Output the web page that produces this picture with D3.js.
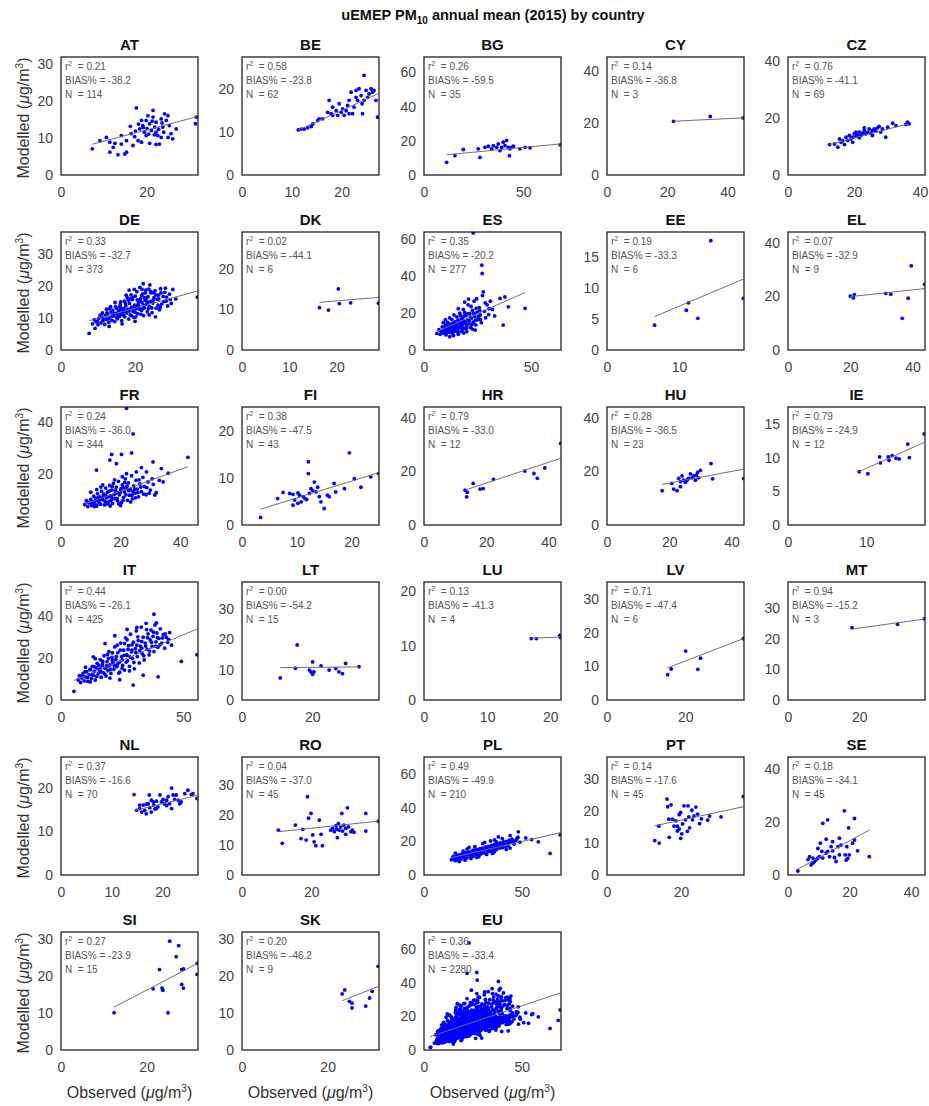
<!DOCTYPE html>
<html>
<head>
<meta charset="utf-8">
<script src="https://cdn.jsdelivr.net/npm/d3@7"></script>
<style>
  body { margin: 0; background: #fff; }
  svg { display: block; font-family: "Liberation Sans", Arial, Helvetica, sans-serif; }
  .note { white-space: pre; }
</style>
</head>
<body>
<svg id="chart" width="929" height="1106"></svg>
<script>
// panel order, left to right, top to bottom
const countries = ["AT","BE","BG","CY","CZ","DE","DK","ES","EE","EL","FR","FI","HR","HU","IE",
                   "IT","LT","LU","LV","MT","NL","RO","PL","PT","SE","SI","SK","EU"];
// both axes share the same upper limit in every panel
const axisMax = [32, 27.5, 69, 45.5, 41.5, 37, 29, 64, 19, 44, 46, 25, 44, 44, 17.5,
                 56, 39, 21.7, 35, 38.5, 27, 39.5, 70, 37, 44.5, 32, 32, 70];
const xTicks = [[0,20],[0,10,20],[0,50],[0,20,40],[0,20,40],
                [0,20],[0,10,20],[0,50],[0,10],[0,20,40],
                [0,20,40],[0,10,20],[0,20,40],[0,20,40],[0,10],
                [0,50],[0,20],[0,10,20],[0,20],[0,20],
                [0,10,20],[0,20],[0,50],[0,20],[0,20,40],
                [0,20],[0,20],[0,50]];
const yTicks = [[0,10,20,30],[0,10,20],[0,20,40,60],[0,20,40],[0,20,40],
                [0,10,20,30],[0,10,20],[0,20,40,60],[0,5,10,15],[0,20,40],
                [0,20,40],[0,10,20],[0,20,40],[0,20,40],[0,5,10,15],
                [0,20,40],[0,10,20,30],[0,10,20],[0,10,20,30],[0,10,20,30],
                [0,10,20],[0,10,20,30],[0,20,40,60],[0,10,20,30],[0,20,40],
                [0,10,20,30],[0,10,20,30],[0,20,40,60]];
const r2 = [0.21,0.58,0.26,0.14,0.76,0.33,0.02,0.35,0.19,0.07,0.24,0.38,0.79,0.28,0.79,
            0.44,0.00,0.13,0.71,0.94,0.37,0.04,0.49,0.14,0.18,0.27,0.20,0.36];
const biasPct = [-38.2,-23.8,-59.5,-36.8,-41.1,-32.7,-44.1,-20.2,-33.3,-32.9,-36.0,-47.5,-33.0,-36.5,-24.9,
                 -26.1,-54.2,-41.3,-47.4,-15.2,-16.6,-37.0,-49.9,-17.6,-34.1,-23.9,-46.2,-33.4];
const nStations = [114,62,35,3,69,373,6,277,6,9,344,43,12,23,12,425,15,4,6,3,70,45,210,45,45,15,9,2280];
// regression line: modelled = slope * observed + intercept
const fitSlope = [0.306,0.53,0.11,0.056,0.305,0.317,0.098,0.514,0.49,0.125,0.42,0.358,0.387,0.217,0.52,
                  0.485,0.01,0.05,0.448,0.159,0.28,0.123,0.267,0.25,0.634,0.607,0.46,0.39];
const fitIntercept = [6.1,4.46,10.6,19.5,6.9,6.8,10.1,6.9,2.15,17.4,4.8,2.15,7.9,11.3,3.2,
                      6.7,10.6,10.5,2.6,20.3,10.7,13.2,6.5,12.2,0.2,4.1,2.6,6.7];

// observed, modelled pairs (µg/m³)
const AT = [[7.3,7.1],[11.4,8.9],[13.3,5.5],[11.4,6.2],[12.6,8.6],[14.1,10.7],[15.3,9.3],[16.4,11.2],[17.4,11.9],[17.6,18.2],
  [18.4,12.5],[18.8,14.8],[19.1,13.4],[19.5,11.6],[19.9,10.7],[20.3,16.1],[20.7,13.9],[21.1,12.1],[21.5,15.7],[21.9,13.0],
  [22.2,14.3],[22.6,10.7],[23.0,8.4],[23.4,15.2],[23.8,13.0],[24.0,11.6],[24.2,16.6],[24.6,14.8],[25.0,10.2],[25.3,13.4],
  [25.7,11.2],[26.1,9.8],[18.8,8.9],[20.7,8.6],[22.2,8.3],[14.9,5.7],[15.3,6.2],[12.2,7.5],[14.1,8.4],[16.8,8.0],
  [18.0,9.3],[31.6,15.7],[31.4,13.9],[26.9,12.5],[25.0,16.1],[21.5,17.5],[19.9,14.8],[22.2,11.6],[23.4,10.2],[9.1,9.3],
  [10.6,10.2],[19.2,12.9],[20.1,12.6],[21.3,14.6],[22.8,12.4],[20.5,11.1],[18.1,13.8],[23.6,14.1],[21.8,10.9],[17.2,10.4],[16.2,13.2]];
const BE = [[11.3,10.5],[11.9,10.7],[12.5,10.7],[13.2,11.0],[13.9,11.3],[14.2,11.9],[16.2,13.1],[17.5,17.4],[17.9,14.3],[18.2,13.9],
  [18.9,15.0],[19.2,13.9],[19.5,16.6],[19.9,14.6],[20.2,15.4],[20.5,13.9],[20.9,15.0],[21.2,16.2],[21.5,17.4],[21.9,19.3],
  [22.2,14.3],[22.5,15.8],[22.9,18.1],[23.2,17.4],[23.5,20.1],[23.9,18.5],[24.2,14.3],[24.5,23.2],[24.5,17.4],[24.9,19.7],
  [25.2,18.1],[25.5,18.9],[25.9,20.1],[26.2,19.3],[26.5,19.7],[26.9,17.4],[27.2,13.5],[21.5,14.3],[18.2,15.8],[17.2,14.6],
  [15.5,13.1],[15.2,12.7],[22.9,19.7],[24.1,16.6]];
const BG = [[11.4,7.4],[15.6,11.3],[19.8,14.9],[27.3,15.3],[28.2,10.3],[30.7,16.2],[32.4,16.8],[34.1,15.3],[34.9,17.2],[36.6,16.2],
  [37.4,18.2],[38.3,14.3],[39.1,16.2],[39.9,19.2],[40.8,17.2],[41.6,20.2],[42.5,16.2],[43.0,11.3],[43.3,15.3],[44.2,16.2],
  [45.0,16.8],[48.3,15.3],[50.9,16.2],[53.4,15.9],[68.6,17.6]];
const CY = [[22.1,20.7],[34.3,22.6],[45.2,22.0]];
const CZ = [[12.6,10.7],[14.1,10.9],[15.1,9.8],[16.1,11.5],[16.6,12.1],[17.1,10.7],[17.6,13.3],[18.1,12.1],[18.6,13.9],[19.1,12.7],
  [19.6,13.3],[20.1,14.5],[20.6,13.5],[21.1,14.2],[21.6,15.1],[22.1,13.9],[22.6,14.7],[23.1,15.6],[23.6,14.5],[24.1,15.1],
  [24.6,16.2],[25.1,14.7],[25.6,15.6],[26.1,16.2],[26.6,15.4],[27.1,16.6],[27.6,17.1],[28.1,15.1],[28.6,16.2],[29.6,13.3],
  [30.2,16.8],[31.7,18.2],[32.7,17.4],[35.7,17.8],[36.2,18.6],[36.7,18.0],[15.6,12.7],[19.6,11.5],[21.6,13.1],[25.6,13.9],
  [20.6,15.1],[23.1,16.6]];
const DE = [[8.5,8.2],[9,9.5],[9.5,8.8],[10,7.9],[10.2,9.9],[10.8,8.5],[11,10.4],[11.3,9.2],[11.8,8.0],[12,10.8],
  [12.2,9.6],[12.6,11.2],[12.9,8.7],[13.2,10.1],[13.5,11.9],[13.8,9.3],[14,12.4],[14.2,10.7],[14.5,8.9],[14.8,11.5],
  [15,13.1],[15.2,9.8],[15.5,12.2],[15.8,10.5],[16,14.2],[16.2,11.3],[16.4,9.2],[16.6,13.0],[16.9,12.0],[17.1,15.3],
  [17.2,10.4],[17.5,13.8],[17.7,11.6],[17.9,16.4],[18.1,12.7],[18.3,9.7],[18.5,14.6],[18.7,11.0],[18.9,17.3],[19.1,13.4],
  [19.3,15.8],[19.5,12.1],[19.7,10.2],[19.9,14.1],[20.1,16.9],[20.3,12.9],[20.5,18.3],[20.7,11.4],[20.9,15.1],[21.1,13.7],
  [21.3,19.6],[21.5,16.2],[21.7,12.4],[21.9,14.8],[22.1,17.6],[22.3,10.8],[22.5,13.2],[22.7,15.6],[22.9,18.8],[23.1,14.3],
  [23.3,12.0],[23.5,16.7],[23.7,19.1],[23.9,13.6],[24.1,15.2],[24.3,17.9],[24.6,11.7],[24.8,14.7],[25.1,16.4],[25.4,18.6],
  [25.7,13.1],[26,15.9],[26.3,17.2],[26.6,12.6],[26.9,19.2],[27.2,14.4],[27.6,16.8],[28,18.1],[28.4,15.3],[28.8,13.8],
  [29.3,17.5],[29.8,14.6],[30.2,19.0],[31,16.0],[7.6,5.2],[36.8,16.6],[9.2,6.8],[13,7.4],[16.5,8.2],[20,9.0],
  [12.3,12.8],[14.6,14.9],[25.5,10.4],[17,13],[18.4,12.2],[19.6,13.2],[20.8,14.2],[21.6,11.2],[22.6,16.4],[16,12.6],
  [9.8,9.0],[10.6,10.9],[11.5,9.7],[12.4,11.6],[13.1,12.9],[13.9,10.8],[14.7,13.6],[15.4,11.0],[16.1,15.1],[16.8,10.9],
  [17.4,14.5],[18.2,15.6],[18.8,12.9],[19.4,16.6],[20.0,11.8],[20.6,15.7],[21.2,12.8],[21.8,17.1],[22.4,14.0],[23.0,16.1],
  [23.6,13.0],[24.2,18.4],[24.9,15.6],[25.6,17.3],[26.2,14.1],[27.0,17.9],[27.8,15.2],[28.5,16.6],[29.5,15.8],[14.3,11.4],
  [15.9,13.6],[17.8,12.3],[19.0,10.8],[20.4,13.6],[22.0,12.9],[23.4,15.0],[24.5,13.2],[26.4,16.0],[18.6,16.0],[16.4,12.6],
  [15.1,10.2],[12.8,9.9],[11.2,11.6],[21.4,15.5],[22.8,17.9],[25.0,18.0],[19.8,19.0],[17.6,17.2],[13.4,13.6],[23.8,11.0],
  [26.8,13.4],[28.2,19.4],[20.2,10.4],[21.9,19.0],[24.0,20.4],[22.2,20.8],[18.4,18.8]];
const DK = [[16.4,10.4],[18.3,9.8],[20.4,15.0],[20.6,11.4],[23.0,11.6],[28.9,11.5]];
const ES = [[6,9],[7,11],[7.5,8.5],[8,10],[8.5,12.5],[9,9.2],[9.5,11],[10,13.5],[10.3,8.2],[10.8,10.5],
  [11,15],[11.5,12],[12,9.6],[12.3,14],[12.8,11.2],[13,16.5],[13.4,8.8],[13.8,12.8],[14.2,10.2],[14.5,15.3],
  [15,13.2],[15.3,18],[15.6,9.9],[16,11.8],[16.3,14.6],[16.7,20],[17,12.4],[17.4,16.8],[17.8,10.8],[18,13.9],
  [18.4,22],[18.8,15.4],[19.1,11.6],[19.5,18.6],[19.8,13],[20.2,16.1],[20.6,24.5],[21,14.2],[21.4,19.8],[21.8,12.2],
  [22.2,17.3],[22.6,21.5],[23,15.1],[23.4,26.5],[23.8,18.2],[24.2,13.6],[24.7,20.4],[25.2,16.4],[25.8,23],[26.3,19],
  [26.8,14.8],[27.3,29.5],[27.7,31.5],[28.2,21],[28.8,17.5],[29.5,24.5],[30.2,19.2],[31,26.5],[32,22],[33,18.5],
  [23,63.5],[27,46],[27.2,41.5],[35.5,28],[37.8,28.8],[37,13.5],[47.2,22.6],[39.4,23.4],[12,7.2],[16,8.5],
  [20,10],[9,14.8],[14,19],[24,10.8],[19,26],[11,11],[13,13],[15,11],[17,14],[18,17],[10,9.5],[14,14],
  [8.8,9.8],[9.6,12.2],[10.6,9.4],[11.2,13.4],[11.8,10.2],[12.6,12.8],[13.2,9.6],[13.6,14.6],[14.4,11.6],[14.8,13.8],
  [15.4,10.6],[15.8,16.2],[16.6,12.6],[17.2,10],[17.6,15.2],[18.2,12],[18.6,18.4],[19.4,14.4],[20,12],[20.4,19.6],
  [21.2,15.8],[21.6,17.8],[22.4,13.8],[23.2,19.8],[24,16.2],[24.4,22.6],[25.6,18.2],[26,21.4],[10,16.4],[12,17.4],
  [16,22.4],[17,18.6],[19,20.4],[22,23.6],[20.8,27.6],[24.6,27.8],[13.8,7.8],[18.6,9.2],[22.8,11.2],[26.4,16.6],
  [28.6,25.6],[30.4,22.4]];
const EE = [[6.6,4.0],[11.3,7.6],[11.0,6.4],[12.6,5.1],[14.4,17.6],[18.9,8.3]];
const EL = [[20,20.1],[21.3,20.6],[21.0,19.4],[31.4,21.1],[38.6,19.3],[36.7,11.8],[39.6,31.4],[43.9,24.5],[33,20.8]];
const FR = [[8,8],[8.5,9.5],[9,7.2],[9.5,8.6],[10,10],[10.3,7.6],[10.8,9.1],[11,11.2],[11.4,8.2],[11.8,10.4],
  [12,7.4],[12.3,12.2],[12.6,9.3],[13,11],[13.3,8.1],[13.6,13.2],[14,9.9],[14.3,12],[14.6,7.8],[15,14.4],
  [15.3,10.6],[15.6,12.8],[16,9],[16.3,15.4],[16.6,11.4],[17,13.6],[17.3,8.4],[17.6,16.2],[18,10.2],[18.3,12.4],
  [18.6,14.8],[19,9.4],[19.3,17],[19.6,11.8],[20,13.4],[20.3,8.8],[20.6,15.6],[21,10.8],[21.3,12.9],[21.6,18],
  [22,14.2],[22.3,9.6],[22.6,16.4],[23,11.6],[23.3,13.8],[23.7,19.2],[24,10.2],[24.4,15.2],[24.8,12.4],[25.2,17.4],
  [25.6,14],[26,11],[26.5,16],[27,13],[27.5,18.6],[28,15],[28.6,11.8],[29.2,16.8],[30,13.6],[31,15.8],
  [32,12.6],[33,17.4],[12,13.8],[14,15.6],[10,12.8],[16.5,7.4],[20,7.6],[22,45.5],[24.2,35.5],[17,27.5],
  [20.3,27.5],[23.7,28.1],[11.9,21.4],[18.6,23.9],[22,20],[25.3,20.7],[28.7,20.7],[30.9,24.6],[33.7,22],[34.3,16.8],
  [31.5,11.7],[42.6,26.4],[16.4,25.3],[36,20.2],[27,22.4],[15,11.6],[17,10.6],[19,12.6],[21,14.6],[13,10],
  [9.2,8.8],[10.6,8.4],[11.6,9.6],[12.8,8.6],[13.8,10.6],[14.8,9.2],[15.8,11],[16.8,9.6],[17.8,11.8],[18.8,10.4],
  [19.8,12.6],[20.8,9.6],[21.8,11.8],[22.8,13.4],[23.8,11.6],[24.8,14],[25.8,12.6],[26.8,14.8],[27.8,12],[28.8,14.6],
  [12.6,10.8],[14.2,11.2],[16.2,13.2],[18.2,13.6],[20.2,14.2],[22.2,15.2],[24.2,13],[26.2,17.6],[19.4,8.2],[21.4,16.6],
  [17.2,15],[15.6,8.2],[23.4,9],[25,10.6],[11.2,7.2],[13.4,14.8],[29.6,12.4],[30.6,18],[18,17.6],[20.6,18.8]];
const FI = [[3.4,1.6],[6.5,5.6],[7.5,6.9],[9.3,6.5],[9.6,5.3],[9.3,4.2],[10.2,6.8],[10.2,4.6],[10.8,4.9],[11.2,6.0],
  [11.5,5.6],[11.8,5.4],[12.1,13.4],[12.1,10.9],[12.3,6.7],[12.6,7.7],[12.9,7.3],[13.2,9.1],[13.5,7.0],[13.8,8.0],
  [14.1,6.0],[14.4,4.9],[15.0,3.5],[15.6,6.3],[15.9,6.0],[16.8,8.8],[17.1,7.0],[18.7,7.7],[19.6,15.3],[20.5,9.8],
  [21.7,8.0],[23.5,10.2],[24.9,10.9],[8.7,6.7],[10.5,6.3]];
const HR = [[13.2,13],[13.7,10.5],[13.9,12.2],[15.8,15.5],[18,13.4],[19,13.6],[22.3,17],[32.4,20.1],[35.3,19.2],[36.4,17.4],
  [38.8,21.3],[43.9,30.4]];
const HU = [[17.7,12.8],[21.4,13.4],[22.5,12.8],[23.0,17.4],[23.6,16.2],[24.1,18.3],[24.6,16.7],[25.2,15.9],[25.7,16.7],[26.2,17.4],
  [26.8,19.1],[27.3,17.6],[27.8,18.3],[28.4,16.7],[28.7,18.6],[29.1,19.6],[29.4,17.6],[30.0,20.4],[33.4,22.9],[33.9,17.2],
  [43.9,17.3],[20.8,15.5],[23.6,14.3]];
const IE = [[9.1,7.9],[10.2,7.6],[11.7,10.1],[11.8,9.2],[12.9,9.6],[13.3,10.3],[13.8,9.9],[14.2,9.8],[15.3,12.0],[15.5,10.0],
  [17.4,13.5],[12.8,10.1]];
const IT = [[7,9.5],[7.5,11.5],[8,8.3],[8.5,10.4],[9,12.6],[9.5,9.1],[10,11],[10.5,13.4],[11,8.8],[11.5,12],
  [12,14.5],[12.4,10.2],[12.8,16],[13.2,11.8],[13.6,13.6],[14,9.5],[14.4,15.2],[14.8,17.4],[15.2,12.4],[15.6,14.2],
  [16,19.2],[16.4,10.8],[16.8,16.3],[17.2,13],[17.6,21],[18,15],[18.4,11.4],[18.8,18.2],[19.2,14],[19.6,23],
  [20,16.6],[20.4,12.6],[20.8,20.2],[21.2,17.8],[21.6,14.6],[22,25.2],[22.4,19.2],[22.8,15.8],[23.2,22.4],[23.6,12.8],
  [24,18],[24.4,27],[24.8,20.6],[25.2,16.4],[25.6,23.6],[26,14.2],[26.4,29.5],[26.8,21.4],[27.2,18.6],[27.6,25.8],
  [28,16],[28.4,31.2],[28.8,22.8],[29.2,19.8],[29.6,27.4],[30,14.8],[30.4,24.4],[30.8,32.8],[31.2,20.6],[31.6,28.2],
  [32,17.6],[32.4,25.6],[32.8,34.6],[33.2,22],[33.6,29.8],[34,19],[34.4,27],[34.8,36.4],[35.2,24],[35.6,31.4],
  [36,21.4],[36.4,28.6],[36.8,33.2],[37.2,25.4],[37.6,30.2],[38,23],[38.4,35.6],[38.8,27.6],[39.2,31.8],[39.6,25],
  [40,29.2],[40.6,33.8],[41.2,27],[41.8,31],[42.4,24.6],[43,29.8],[43.6,27.4],[44.4,32],[45.2,26],[5.3,4.1],
  [38,40.7],[39,36.6],[49.2,18.3],[55.6,21.5],[39.7,11],[29.5,7.1],[33.6,11.8],[13.2,20.5],[22,30.5],[27,33.5],
  [24,9.6],[18,26.8],[21,18.8],[23,16.6],[25,19],[27,21.2],[29,23.6],[31,26],[33,24.6],[19,16],[17,18.4],[26,26.8],
  [8.8,11.6],[9.8,13.4],[10.8,10.6],[11.8,14.4],[12.6,12.2],[13.6,15.8],[14.6,11.2],[15.4,16.4],[16.2,13.4],[17,17.2],
  [17.8,12.4],[18.6,16.2],[19.4,19.8],[20.2,14.6],[21,22.4],[21.8,16.4],[22.6,20.6],[23.4,17.6],[24.2,23.6],[25,15],
  [25.8,21.2],[26.6,18],[27.4,24],[28.2,20.4],[29,26.2],[29.8,17.8],[30.6,22.6],[31.4,30],[32.2,23.4],[33,27.8],
  [33.8,21],[34.6,25.6],[35.4,29.6],[36.2,23.2],[37,27.4],[37.8,32.2],[38.6,25.6],[39.4,29.6],[40.4,26.2],[41.4,29.4],
  [42.6,31.4],[44,28.8],[19,21.6],[23,26],[27,28.6],[31,34.4],[35,33.4],[20,10.4],[24,13.2],[28,13.8],
  [16,14.8],[12,8.6],[10,15.6],[14,19.6]];
const LT = [[10.9,7.3],[15.7,18.2],[15.2,10.5],[19.6,9.3],[20.1,8.5],[20.5,9.3],[20.1,12.6],[22.5,11.3],[24.8,9.9],[26.7,10.4],
  [27.6,9.3],[28.6,8.7],[29.5,12.1],[33.3,11.0],[19.2,9.9]];
const LU = [[17.0,11.3],[17.8,11.3],[21.6,11.5],[21.5,11.9]];
const LV = [[15.5,7.5],[16.4,9.2],[20.1,14.5],[23.2,9.1],[23.9,12.4],[34.8,18.2]];
const MT = [[18,23.6],[30.8,24.7],[38.3,26.5]];
const NL = [[14.4,18.4],[14.9,14.8],[15.5,15.2],[15.9,14.4],[16.2,16.0],[16.5,14.8],[16.8,14.0],[17.2,16.3],[17.4,18.3],[17.5,15.4],
  [17.8,14.4],[18.2,16.7],[18.3,16.0],[18.5,15.1],[18.8,16.9],[19.1,15.6],[19.5,18.3],[19.8,16.7],[20.1,17.3],[20.4,16.3],
  [20.8,17.1],[21.1,17.9],[21.4,16.3],[21.8,15.2],[21.8,19.9],[22.1,18.3],[22.4,17.3],[22.7,18.3],[23.1,17.1],[23.4,16.3],
  [23.7,16.7],[24.4,18.6],[25.0,19.4],[25.7,18.4],[26.0,18.6],[26.8,17.5],[15.5,16.0],[16.8,16.2],[17.8,17.1],[18.8,15.2],[20.8,15.9]];
const RO = [[10.5,15.0],[11.6,10.6],[15.4,16.7],[17.0,12.2],[17.5,15.3],[18.5,11.7],[18.9,26.2],[19.2,19.0],[19.9,20.6],[20.4,13.4],
  [20.8,11.1],[21.3,9.8],[22.3,18.4],[22.8,13.6],[23.2,9.8],[25.6,15.0],[26.1,15.6],[26.6,14.5],[27.1,16.5],[27.5,12.5],
  [27.8,17.2],[28.0,15.0],[28.5,16.1],[28.8,20.6],[29.0,14.7],[29.4,16.7],[29.9,15.6],[29.9,13.6],[30.4,22.5],[30.7,16.1],
  [31.4,14.5],[31.8,15.0],[32.3,14.3],[35.7,20.6],[35.7,14.7],[39.3,18.0],[27.2,15.4]];
const PL = [[14,9],[15,11],[16,8.5],[17,10.5],[18,12],[19,9.5],[20,11.5],[21,13.2],[22,10.2],[23,12.4],
  [24,14],[25,11],[26,13],[27,15],[28,12],[29,14.2],[30,16],[31,13],[32,15.2],[33,17],
  [34,14],[35,16],[36,18],[37,15],[38,17.2],[39,19],[40,16.2],[41,18.2],[42,20],[43,17.2],
  [44,19.4],[45,21.2],[46,18.4],[47,20.6],[48,22.4],[49,19.5],[20,14.2],[24,9.8],[28,10.8],[32,12.2],
  [36,13.8],[40,21.6],[44,16],[30,18.6],[26,16.8],[22,15.4],[34,20.2],[38,22.6],[16,13],[18,8],
  [64.4,12.8],[69.6,23.8],[58.4,19.7],[48.2,25.6],[52,22],[55,21],[25,14.6],[29,12.4],[33,15.4],[37,19.6],
  [14.6,10.2],[15.6,9.4],[16.6,11.8],[17.6,9],[18.6,11],[19.6,12.6],[20.6,10.2],[21.6,12],[22.6,13.6],[23.6,11.2],
  [24.6,12.8],[25.6,14.8],[26.6,12.2],[27.6,13.8],[28.6,15.6],[29.6,13.2],[30.6,14.8],[31.6,16.6],[32.6,14],[33.6,15.8],
  [34.6,17.6],[35.6,15],[36.6,16.8],[37.6,18.6],[38.6,16],[39.6,17.8],[40.6,19.6],[41.6,17],[42.6,18.8],[43.6,20.6],
  [45.6,19.8],[47.6,21.8],[21,8.8],[27,10.4],[35,12.8],[42,15.2],[23,16.4],[31,19.4],[36,20.8],[44,23.4]];
const PT = [[12.9,10.8],[14.1,10.0],[14.0,15.3],[16.2,23.8],[16.4,21.4],[17.3,22.0],[16.8,11.8],[16.7,17.5],[18.6,17.0],[19.0,15.3],
  [19.5,18.9],[19.5,14.4],[19.9,19.6],[19.9,11.5],[20.2,12.9],[20.4,16.0],[20.8,21.7],[21.2,17.3],[21.7,13.7],[21.9,21.7],
  [22.1,18.2],[22.3,14.8],[22.9,20.3],[23.5,18.5],[24.0,21.3],[24.5,19.1],[25.0,16.1],[25.5,17.6],[27.2,17.2],[27.7,18.5],
  [30.8,18.2],[36.8,24.6],[18.1,15.3],[17.7,17.5],[23.1,17.3],[19,13.8]];
const SE = [[3.2,1.5],[7.0,6.9],[7.5,3.8],[8.1,4.5],[8.6,5.1],[9.2,5.8],[9.7,6.4],[10.2,6.9],[10.5,12.0],[9.7,10.0],
  [11.3,19.5],[12.9,20.8],[12.4,13.5],[11.3,6.4],[12.4,8.3],[12.9,8.9],[13.5,6.9],[14.0,10.7],[14.5,9.1],[15.1,6.6],
  [15.6,5.1],[16.2,10.7],[16.7,7.6],[17.2,11.3],[18.3,24.2],[18.6,7.6],[18.9,5.6],[19.1,10.7],[19.4,6.3],[19.7,17.8],
  [19.9,7.6],[21.0,12.0],[21.6,21.3],[21.6,13.2],[22.6,9.1],[26.4,6.9],[6.5,5.8],[11,8.9],[14.5,12.6],[16.7,13.9],[8.1,6.4]];
const SI = [[12.4,10.1],[21.5,16.6],[23.0,21.8],[23.6,16.8],[23.8,16.2],[25.0,10.1],[25.4,29.5],[26.9,25.3],[27.5,28.3],[28.2,21.8],
  [28.6,22.0],[28.2,17.8],[28.6,16.8],[31.8,20.5],[31.8,23.5]];
const SK = [[23.4,15.2],[24.0,16.3],[25.1,13.2],[25.7,12.7],[25.7,11.4],[28.9,11.9],[29.8,14.1],[30.4,15.9],[31.8,22.7]];
// the EU panel pools every station of the countries above
const EU = [].concat(AT,BE,BG,CY,CZ,DE,DK,ES,EE,EL,FR,FI,HR,HU,IE,IT,LT,LU,LV,MT,NL,RO,PL,PT,SE,SI,SK);

const pointSets = [AT,BE,BG,CY,CZ,DE,DK,ES,EE,EL,FR,FI,HR,HU,IE,IT,LT,LU,LV,MT,NL,RO,PL,PT,SE,SI,SK,EU];

const svg = d3.select("#chart");
svg.append("rect").attr("width", 929).attr("height", 1106).attr("fill", "#fff");

const colLeft = [61, 242, 424, 607, 788];
const panelW = 137, panelH = 118, rowStep = 175, firstTop = 57;
const defs = svg.append("defs");

// --- title ---
const title = svg.append("text")
    .attr("x", 493).attr("y", 20)
    .attr("text-anchor", "middle")
    .attr("font-size", 14.5).attr("font-weight", "bold").attr("fill", "#111");
title.append("tspan").text("uEMEP PM");
title.append("tspan").attr("font-size", 10).attr("dy", 4).text("10");
title.append("tspan").attr("dy", -4).text(" annual mean (2015) by country");

function unitLabel(sel, prefix) {
    sel.append("tspan").text(prefix + " (");
    sel.append("tspan").attr("font-style", "italic").text("\u03bc");
    sel.append("tspan").text("g/m");
    sel.append("tspan").attr("font-size", 10).attr("dy", -6).text("3");
    sel.append("tspan").attr("dy", 6).text(")");
}

countries.forEach((name, i) => {
    const col = i % 5, row = Math.floor(i / 5);
    const left = colLeft[col], top = firstTop + row * rowStep;
    const M = axisMax[i];
    const x = d3.scaleLinear().domain([0, M]).range([left, left + panelW]);
    const y = d3.scaleLinear().domain([0, M]).range([top + panelH, top]);
    const pts = pointSets[i];

    const clipId = "clip-" + name;
    defs.append("clipPath").attr("id", clipId)
        .append("rect").attr("x", left).attr("y", top).attr("width", panelW).attr("height", panelH);

    const g = svg.append("g");

    // points
    g.append("g").attr("clip-path", `url(#${clipId})`)
        .selectAll("circle")
        .data(pts)
        .join("circle")
        .attr("cx", d => x(d[0]))
        .attr("cy", d => y(d[1]))
        .attr("r", 1.9)
        .attr("fill", "#0000ff");

    // regression line across the observed range
    const [x0, x1] = d3.extent(pts, d => d[0]);
    g.append("line")
        .attr("clip-path", `url(#${clipId})`)
        .attr("x1", x(x0)).attr("y1", y(fitSlope[i] * x0 + fitIntercept[i]))
        .attr("x2", x(x1)).attr("y2", y(fitSlope[i] * x1 + fitIntercept[i]))
        .attr("stroke", "#707070").attr("stroke-width", 1);

    // axes (labels only, box drawn separately)
    const xAxis = g.append("g")
        .attr("transform", `translate(0,${top + panelH})`)
        .call(d3.axisBottom(x).tickValues(xTicks[i]).tickSize(0).tickPadding(12).tickFormat(d3.format("d")));
    const yAxis = g.append("g")
        .attr("transform", `translate(${left},0)`)
        .call(d3.axisLeft(y).tickValues(yTicks[i]).tickSize(0).tickPadding(8).tickFormat(d3.format("d")));
    [xAxis, yAxis].forEach(a => {
        a.select(".domain").remove();
        a.attr("font-family", null).attr("font-size", null);
        a.selectAll("text").attr("font-size", 14).attr("fill", "#444");
    });

    g.append("rect")
        .attr("x", left).attr("y", top).attr("width", panelW).attr("height", panelH)
        .attr("fill", "none").attr("stroke", "#222").attr("stroke-width", 1.3);

    // panel title
    g.append("text")
        .attr("x", left + panelW / 2).attr("y", top - 7)
        .attr("text-anchor", "middle")
        .attr("font-size", 15).attr("font-weight", "bold").attr("fill", "#111")
        .text(name);

    // statistics
    const stats = g.append("g").attr("font-size", 10).attr("fill", "#555");
    const t1 = stats.append("text").attr("class", "note").attr("x", left + 4).attr("y", top + 13);
    t1.append("tspan").text("r");
    t1.append("tspan").attr("font-size", 7).attr("dy", -4).text("2");
    t1.append("tspan").attr("dy", 4).text("  = " + r2[i].toFixed(2));
    stats.append("text").attr("class", "note").attr("x", left + 4).attr("y", top + 27)
        .text("BIAS% = " + biasPct[i].toFixed(1));
    stats.append("text").attr("class", "note").attr("x", left + 4).attr("y", top + 41)
        .text("N  = " + nStations[i]);

    // y label on the first column
    if (col === 0) {
        const yl = svg.append("text")
            .attr("transform", `translate(29,${top + panelH / 2 + 2}) rotate(-90)`)
            .attr("text-anchor", "middle")
            .attr("font-size", 16).attr("fill", "#333");
        unitLabel(yl, "Modelled");
    }
    // x label on the last row
    if (row === 5) {
        const xl = svg.append("text")
            .attr("x", left + panelW / 2).attr("y", 1098)
            .attr("text-anchor", "middle")
            .attr("font-size", 16).attr("fill", "#333");
        unitLabel(xl, "Observed");
    }
});
</script>
</body>
</html>
